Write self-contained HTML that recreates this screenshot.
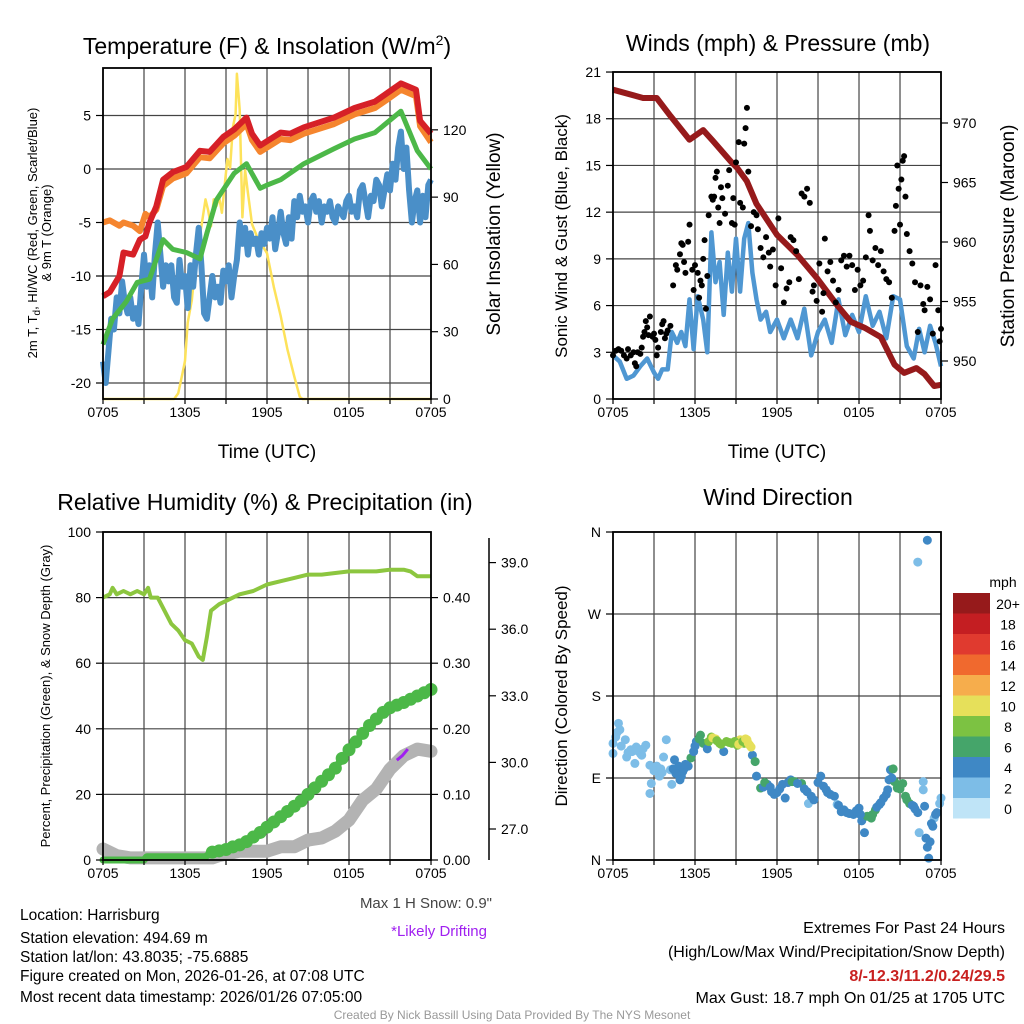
<!DOCTYPE html>
<html><head><meta charset="utf-8">
<style>
html,body{margin:0;padding:0;background:#fff;}
svg{display:block;font-family:"Liberation Sans",Arial,sans-serif;}
</style></head>
<body>
<svg id="fig" width="1024" height="1024" viewBox="0 0 1024 1024" xmlns="http://www.w3.org/2000/svg">
<rect width="1024" height="1024" fill="#fff"/>
<g id="grid"></g>
<g id="marks"></g>
<g id="axes"></g>

<text x="267" y="54" font-size="23" text-anchor="middle">Temperature (F) &amp; Insolation (W/m<tspan dy="-9" font-size="14">2</tspan><tspan dy="9">)</tspan></text>
<text x="778" y="51" font-size="23" text-anchor="middle">Winds (mph) &amp; Pressure (mb)</text>
<text x="265" y="510" font-size="23" text-anchor="middle">Relative Humidity (%) &amp; Precipitation (in)</text>
<text x="778" y="505" font-size="23" text-anchor="middle">Wind Direction</text>

<text transform="translate(37,233) rotate(-90)" font-size="13" text-anchor="middle">2m T, T<tspan dy="3" font-size="10">d</tspan><tspan dy="-3">, HI/WC (Red, Green, Scarlet/Blue)</tspan></text>
<text transform="translate(51,233) rotate(-90)" font-size="13" text-anchor="middle">&amp; 9m T (Orange)</text>
<text transform="translate(500,234) rotate(-90)" font-size="19" text-anchor="middle">Solar Insolation (Yellow)</text>
<text x="267" y="458" font-size="19" text-anchor="middle">Time (UTC)</text>
<text x="777" y="458" font-size="19" text-anchor="middle">Time (UTC)</text>
<text transform="translate(567,236) rotate(-90)" font-size="17" text-anchor="middle">Sonic Wind &amp; Gust (Blue, Black)</text>
<text transform="translate(1014,236) rotate(-90)" font-size="19" text-anchor="middle">Station Pressure (Maroon)</text>
<text transform="translate(50,696) rotate(-90)" font-size="13" text-anchor="middle">Percent, Precipitation (Green), &amp; Snow Depth (Gray)</text>
<text transform="translate(567,696) rotate(-90)" font-size="17" text-anchor="middle">Direction (Colored By Speed)</text>
<text x="1003" y="587" font-size="14" text-anchor="middle">mph</text>

<text x="492" y="908" font-size="15" fill="#444" text-anchor="end">Max 1 H Snow: 0.9"</text>
<text x="487" y="936" font-size="15" fill="#a020f0" text-anchor="end">*Likely Drifting</text>
<g font-size="15.5">
<text x="20" y="920">Location: Harrisburg</text>
<text x="20" y="943">Station elevation: 494.69 m</text>
<text x="20" y="962">Station lat/lon: 43.8035; -75.6885</text>
<text x="20" y="981">Figure created on Mon, 2026-01-26, at 07:08 UTC</text>
<text x="20" y="1002">Most recent data timestamp: 2026/01/26 07:05:00</text>
</g>
<g font-size="16" text-anchor="end">
<text x="1005" y="933">Extremes For Past 24 Hours</text>
<text x="1005" y="957">(High/Low/Max Wind/Precipitation/Snow Depth)</text>
<text x="1005" y="981" font-weight="bold" fill="#c8201f">8/-12.3/11.2/0.24/29.5</text>
<text x="1005" y="1003">Max Gust: 18.7 mph On 01/25 at 1705 UTC</text>
</g>
<text x="512" y="1019" font-size="12" fill="#999" text-anchor="middle">Created By Nick Bassill Using Data Provided By The NYS Mesonet</text>
</svg>
<script>
// ---------- data ----------
const timeLabels = ["0705","1305","1905","0105","0705"];
const tempHours = [0,0.5,1.2,1.5,2.2,2.7,3.1,3.4,3.9,4.4,5.1,6.1,7.1,7.8,8.8,9.6,10.5,10.9,11.5,12.5,13,13.7,14.7,16.9,18.4,19.9,20.8,21.8,22.9,23.2,24];
const tempValues = [-11.9,-11.5,-10,-7.8,-8,-6.6,-6.3,-5,-3.5,-1,-0.3,0.2,1.7,1.6,3,3.7,4.8,3.3,2.2,3,3.4,3.3,3.9,4.8,5.7,6.3,7.1,8.0,7.4,4.5,3.3];
const t9Values = [-5,-4.8,-5.3,-5,-5.3,-5.8,-4.2,-4.5,-3.8,-1.6,-0.9,-0.4,1.1,1.0,2.4,3.1,4.2,2.7,1.6,2.4,2.8,2.7,3.3,4.2,5.1,5.7,6.5,7.4,6.8,4.0,2.5];
const hiHours = [0,0.7,1.7,2.5,3.4,4.4,5.1,6.1,7.1,7.6,8.3,9.6,10.5,11.5,12,13,14.7,16.9,18.4,19.9,21.8,23,24];
const hiValues = [-16.4,-14,-12.4,-10.6,-10.3,-6.6,-7.5,-7.8,-8.4,-6,-2.9,-0.4,0.5,-1.8,-1.5,-1,0.5,1.9,2.8,3.4,5.4,1.7,0];
const dewStep = 0.2;
const dewValues = [-18,-20,-17,-14,-15,-12,-13.5,-10.5,-12.5,-13.5,-12,-14,-13,-14.5,-11,-8,-11,-9,-12,-8,-5,-8,-11,-9,-10.5,-9,-12,-12.5,-8.5,-11,-10,-13,-9,-11,-8,-5.5,-9,-13.5,-14,-12,-10,-12,-11,-12.5,-9.5,-10.5,-9,-12,-10,-8.5,-5,-7,-5.5,-8,-6,-7,-6.5,-8,-6,-7,-5.5,-6.5,-4.5,-7.5,-6,-4,-6,-7,-4.5,-6.5,-3,-4.5,-2.5,-4,-3.5,-5,-3,-2.5,-4,-3,-5,-3.5,-4,-3,-4.5,-5,-3.5,-4,-4.5,-3,-2.5,-4,-3.5,-4.5,-2,-1.5,-3,-4.5,-2.5,-3,-1,-1.5,-3.5,-2,-0.5,-2,0.5,-1,2,3.5,0,2,-2,-5,-3,-2,-5,-2.5,-4.5,-1.5,-1];
const solarHours = [0,5.2,5.5,5.8,6,6.2,6.5,6.8,7.2,7.5,7.7,7.9,8.1,8.3,8.5,8.7,8.9,9.1,9.3,9.5,9.7,9.8,10,10.2,10.4,10.6,10.9,11.3,11.6,12,12.5,13,13.5,14,14.4,14.6,24];
const solarValues = [0,0,2.5,11,17,34,44,62,77,89,84,77,89,86,90,83,95,107,103,121,127,145,129,81,102,92,78,72,69,65,50,37,22,10,1,0,0];
const tempTicks = [-20,-15,-10,-5,0,5];
const solarTicks = [0,30,60,90,120];

const presHours = [0,2.2,3.2,4.2,5.6,6.6,7.3,8.6,9.1,9.8,10.5,12,13.5,14.9,16.4,17.4,18.4,19.6,20.6,21.3,22.2,22.8,23.5,24];
const presValues = [972.8,972.1,972.1,970.6,968.6,969.4,968.5,966.8,966.2,965.1,963.2,960.6,958.9,957.0,954.7,953.3,952.8,952.0,949.7,949.0,949.4,948.9,947.9,948.0];
const sonicHours = [0,0.5,1,1.5,2,2.5,3,3.3,3.6,4,4.3,4.7,5,5.3,5.6,5.9,6.2,6.6,6.9,7.2,7.5,7.8,8.1,8.4,8.7,9,9.3,9.6,9.9,10.2,10.5,10.8,11.2,11.5,12,12.5,13,13.5,14,14.5,15,15.5,16,16.5,17,17.5,18,18.5,19,19.5,20,20.5,21,21.5,22,22.4,22.8,23.2,23.6,24];
const sonicValues = [2.8,2.4,1.3,1.5,2.1,2.6,1.7,1.3,1.9,1.9,4.3,3.6,4.3,3.4,6.4,3.2,6.6,5.1,3.0,10.7,7.5,8.8,5.4,9.4,6.9,10.3,6.9,10.3,11.3,8.1,6.4,5.1,5.6,4.3,5.1,3.9,5.1,3.9,5.8,2.8,4.3,5.1,3.6,6.4,4.1,5.4,4.3,6.6,4.7,5.6,3.9,6.6,6.4,3.4,2.6,4.5,3.0,4.7,3.6,2.1];
const gustHours = [0,0.2,0.4,0.6,0.8,1,1.1,1.3,1.5,1.6,1.7,1.8,2,2.1,2.2,2.3,2.4,2.5,2.6,2.7,2.9,3.0,3.1,3.2,3.3,3.5,3.6,3.7,3.8,3.9,4.0,4.2,4.4,4.6,4.7,4.9,5.0,5.1,5.2,5.3,5.5,5.6,5.8,5.9,6.0,6.2,6.3,6.4,6.5,6.6,6.7,6.8,6.9,7.0,7.2,7.3,7.4,7.5,7.6,7.7,7.8,7.9,8.0,8.2,8.4,8.5,8.7,8.8,8.9,9.0,9.2,9.3,9.5,9.6,9.7,9.8,9.9,10.1,10.3,10.5,10.6,10.8,11.0,11.2,11.4,11.5,11.7,11.9,12.1,12.3,12.5,12.7,12.9,13.0,13.2,13.4,13.6,13.8,14.0,14.2,14.4,14.6,14.7,14.9,15.1,15.3,15.4,15.5,15.7,15.9,16.1,16.3,16.5,16.7,16.9,17.1,17.3,17.5,17.7,17.9,18.1,18.3,18.5,18.7,18.8,19.0,19.2,19.4,19.6,19.8,20.0,20.2,20.4,20.6,20.7,20.8,20.9,21.0,21.1,21.2,21.3,21.4,21.5,21.7,21.9,22.1,22.3,22.5,22.7,22.8,23.0,23.2,23.4,23.6,23.8,24.0,23.9];
const gustValues = [2.8,3.1,3.2,3.1,2.8,2.6,3.2,2.8,3.0,2.3,2.1,3.0,2.9,3.3,4.0,4.3,5.0,4.6,4.1,5.3,4.0,4.2,3.8,2.8,3.3,4.3,4.8,5.0,3.9,4.2,4.4,4.7,7.3,8.6,8.3,9.3,10.0,9.9,8.8,8.1,10.1,11.2,8.3,7.0,8.6,8.1,6.5,7.6,7.3,9.0,10.2,5.8,7.9,11.8,13.0,12.8,13.0,14.2,14.6,12.3,11.3,13.6,12.9,11.9,13.7,14.7,11.3,12.9,11.2,15.2,16.5,12.6,12.3,16.4,17.4,18.7,14.6,11.1,12.0,11.8,10.9,9.7,9.1,10.4,9.4,8.5,9.6,7.3,11.6,8.4,6.2,7.1,7.5,10.4,10.2,9.5,7.7,13.2,13.0,13.5,12.6,6.9,7.3,6.3,8.7,5.6,6.8,10.3,8.2,8.8,7.6,6.2,7.0,8.9,9.2,8.5,9.2,8.6,7.0,8.3,7.3,7.6,9.1,11.8,10.8,8.9,9.7,8.6,9.5,8.2,7.7,7.5,6.5,10.8,12.4,15.0,13.5,11.2,14.1,15.3,15.6,13.0,10.6,9.5,8.7,7.5,4.3,7.3,6.1,5.7,7.2,6.4,4.2,8.6,5.7,4.5,3.7];
const windTicks = [0,3,6,9,12,15,18,21];
const presTicks = [950,955,960,965,970];

const rhHours = [0,0.5,0.7,1,1.5,2,2.5,3,3.3,3.5,4,4.5,5,5.5,6,6.5,7,7.3,7.6,7.9,8.5,9,10,11,12,13,14,15,16,17,18,19,20,21,22,22.5,23,24];
const rhValues = [80,81,83,81,82,81,82,81,83,80,80,76,72,70,67,66,62,61,68,76,78,79,81,82,84,85,86,87,87,87.5,88,88,88,88.5,88.5,88,86.5,86.5];
const precipHours = [0,3,3.2,7.5,8,8.5,9,9.5,10,10.5,11,11.5,12,12.5,13,13.5,14,14.5,15,15.5,16,16.5,17,17.5,18,18.5,19,19.5,20,20.5,21,21.5,22,22.5,23,23.5,24];
const precipValues = [0,0,0.005,0.005,0.012,0.014,0.016,0.02,0.023,0.028,0.035,0.042,0.05,0.058,0.066,0.074,0.082,0.09,0.1,0.11,0.12,0.13,0.14,0.155,0.168,0.18,0.193,0.205,0.215,0.225,0.232,0.236,0.24,0.245,0.25,0.255,0.26];
const snowHours = [0,1,2,4,6,8,8.5,10,12,13,14,15,16,17,18,19,20,21,22,23,24];
const snowValues = [26.1,25.8,25.7,25.7,25.7,25.7,25.8,26.0,26.0,26.2,26.2,26.5,26.6,26.9,27.4,28.3,28.8,29.7,30.3,30.6,30.5];
const driftHours = [21.5,21.9,22.3];
const driftValues = [30.1,30.3,30.6];
const rhTicks = [0,20,40,60,80,100];
const precipTicks = [0,0.1,0.2,0.3,0.4];
const snowTicks = [27,30,33,36,39];

const dirHours = [0,0,0.4,0.5,0.9,1,1.3,1.7,1.6,2,2.4,2.7,2.8,2.7,3.2,3.4,3.7,3.9,4.2,4.3,4.5,4.8,5,5.1,5.5,5.7,5.9,6.1,6.4,6.6,6.9,7.2,7.5,7.8,8.1,8.3,8.7,9.1,9.3,9.6,9.8,10,10.2,10.4,10.5,10.8,11.3,11.6,12,12.4,12.6,13,13.3,13.8,14.2,14.3,14.7,15.2,15.4,15.7,16.2,16.4,16.7,17.1,17.6,18,18.2,18.4,18.6,18.9,19.2,19.5,19.8,20.1,20.2,20.3,20.5,20.6,20.8,21.2,21.4,21.7,22,22.3,22.4,22.7,22.7,22.8,22.9,23,23.1,23.4,23.5,23.7,23.9,24,22.3,23.0,
 0.2,0.3,0.6,1.1,1.4,1.8,2.1,2.2,3,3.5,3.6,4.4,4.6,4.9,5.2,5.3,6.0,6.3,7.0,7.3,7.6,7.9,8.5,8.9,9.2,9.5,9.7,9.9,10.1,11,11.1,11.5,11.8,12.2,12.8,13.1,13.5,14,14.5,15,15.6,15.9,16.5,16.9,17.3,17.8,18.1,19,19.3,19.6,20,20.4,20.9,21,21.5,21.9,22.1,23.3,23.6,23.2];
const dirValues = [117,128,150,143,132,113,121,124,106,117,126,104,84,73,103,92,113,132,99,83,110,103,92,97,103,112,119,130,137,128,122,135,133,128,119,130,128,126,132,128,132,126,115,108,92,79,83,75,74,83,68,88,86,84,75,62,66,92,81,74,70,61,53,52,50,57,43,30,48,46,55,61,68,77,88,99,100,86,79,84,70,62,59,52,30,86,77,59,24,14,2,37,46,52,62,68,327,351,
 135,140,125,118,119,120,115,122,98,100,96,100,95,88,100,105,125,133,130,134,131,127,129,130,127,130,133,128,124,80,85,80,72,78,85,86,84,78,70,85,77,72,60,55,51,54,50,50,58,63,72,90,82,78,66,60,56,40,50,20];
const dirSpeeds = [2,2,2,2,2,1,2,2,1,2,2,2,2,2,2,2,2,2,2,2,4,4,4,4,4,6,4,4,6,6,4,8,10,8,4,8,8,8,10,8,10,10,4,6,4,6,4,4,4,4,4,4,6,6,4,2,4,4,4,4,4,2,4,4,4,4,4,4,6,6,6,4,4,4,4,4,6,6,6,6,6,6,4,4,2,2,2,4,4,4,4,4,2,4,2,2,2,4,
 2,2,2,1,2,2,2,2,2,2,2,4,4,4,4,4,4,6,8,10,8,8,8,8,10,8,10,10,10,4,6,4,4,4,4,6,4,4,4,4,4,4,4,4,4,4,4,6,4,4,4,4,6,6,6,4,4,4,4,4];
const dirTickLabels = ["N","E","S","W","N"];
const speedBins = ["0","2","4","6","8","10","12","14","16","18","20+"];
const speedColors = ["#bfe4f7","#7dbde7","#3f88c5","#45a56a","#7cc242","#e6e05a","#f6ad4c","#f0692e","#e03a2f","#c41e22","#961a1b"];

// ---------- helpers ----------
const NS = "http://www.w3.org/2000/svg";
const G = document.getElementById('grid'), M = document.getElementById('marks'), A = document.getElementById('axes');
function mk(tag, attrs, parent){const e=document.createElementNS(NS,tag);for(const k in attrs)e.setAttribute(k,attrs[k]);parent.appendChild(e);return e;}
function pathD(xs, ys, fx, fy){return xs.map((h,i)=>(i?'L':'M')+fx(h).toFixed(1)+','+fy(ys[i]).toFixed(1)).join('');}
const xT = h => 103 + h*13.667;
const xW = h => 613 + h*13.667;
const yT = v => 169 - v*10.7;
const yS = w => 399 - w*2.243;
const yWd = m => 399 - m*15.57;
const yP = p => 361 - (p-950)*11.9;
const yR = v => 860 - v*3.28;
const yPr = v => 860 - v*656;
const ySn = v => 829 - (v-27)*22.2;
const yD = d => 860 - d*0.9111;

function panel(x0,y0,x1,y1,name,hgrid){
  for(let h=0;h<=24;h+=3){
    const l=mk('line',{x1:x0+h*13.667,x2:x0+h*13.667,y1:y0,y2:y1,stroke:'#444','stroke-width':1.2},G);
    
    
  }
  hgrid.forEach(y=>{
    const l=mk('line',{x1:x0,x2:x1,y1:y,y2:y,stroke:'#444','stroke-width':1.2},G);
    
    
  });
  const r=mk('rect',{x:x0,y:y0,width:x1-x0,height:y1-y0,fill:'none',stroke:'#000','stroke-width':1.8},A);
  
  
  timeLabels.forEach((t,i)=>{
    const tx=mk('text',{x:x0+i*82,y:y1+18,'font-size':14,'text-anchor':'middle'},A);tx.textContent=t;
    
    
  });
  for(let h=0;h<=24;h+=3){
    const tk=mk('line',{x1:x0+h*13.667,x2:x0+h*13.667,y1:y1,y2:y1+5,stroke:'#000','stroke-width':1.2},A);
    
    
  }
}
function yTicks(vals, fy, x, dir, fmt, name){
  vals.forEach(v=>{
    const y=fy(v);
    const tk=mk('line',{x1:x,x2:x+dir*7,y1:y,y2:y,stroke:'#000','stroke-width':1.2},A);
    
    
    const tx=mk('text',{x:x+dir*12,y:y+5,'font-size':14,'text-anchor':dir<0?'end':'start'},A);
    tx.textContent=fmt(v);
    
    
  });
}
panel(103,68,431,399,'temperature',tempTicks.map(yT));
panel(613,72,941,399,'winds',windTicks.map(yWd));
panel(103,532,431,860,'humidity',rhTicks.map(yR));
panel(613,532,941,860,'direction',[0,90,180,270,360].map(yD));
yTicks(tempTicks,yT,103,-1,v=>String(v),'temperature-y');
yTicks(solarTicks,yS,431,1,v=>String(v),'solar-y');
yTicks(windTicks,yWd,613,-1,v=>String(v),'wind-y');
yTicks(presTicks,yP,941,1,v=>String(v),'pressure-y');
yTicks(rhTicks,yR,103,-1,v=>String(v),'humidity-y');
yTicks(precipTicks,yPr,431,1,v=>v.toFixed(2),'precip-y');
yTicks(snowTicks,ySn,489,1,v=>v.toFixed(1),'snow-y');
yTicks([0,90,180,270,360].map(String),s=>yD(+s),613,-1,s=>dirTickLabels[[0,90,180,270,360].indexOf(+s)],'direction-y');
const sa=mk('line',{x1:489,x2:489,y1:538,y2:860,stroke:'#000','stroke-width':1.5},A);



let e;
e=mk('path',{d:pathD(solarHours,solarValues,xT,yS),fill:'none',stroke:'#fde25a','stroke-width':2.5,'stroke-linejoin':'round'},M);


const dewHours = dewValues.map((v,i)=>i*dewStep);
e=mk('path',{d:pathD(dewHours,dewValues,xT,yT),fill:'none',stroke:'#4a8fc8','stroke-width':6,'stroke-linejoin':'round'},M);


e=mk('path',{d:pathD(hiHours,hiValues,xT,yT),fill:'none',stroke:'#4cb848','stroke-width':5,'stroke-linejoin':'round'},M);


e=mk('path',{d:pathD(tempHours,t9Values,xT,yT),fill:'none',stroke:'#f5852e','stroke-width':6,'stroke-linejoin':'round'},M);


e=mk('path',{d:pathD(tempHours,tempValues,xT,yT),fill:'none',stroke:'#d62027','stroke-width':6,'stroke-linejoin':'round'},M);



e=mk('path',{d:pathD(sonicHours,sonicValues,xW,yWd),fill:'none',stroke:'#4f97d2','stroke-width':4.5,'stroke-linejoin':'round'},M);


e=mk('path',{d:pathD(presHours,presValues,xW,yP),fill:'none',stroke:'#961a1b','stroke-width':6,'stroke-linejoin':'round'},M);


gustHours.forEach((h,i)=>{
  const c=mk('circle',{cx:xW(h),cy:yWd(gustValues[i]),r:3,fill:'#000'},M);
  
  
});

e=mk('path',{d:pathD(snowHours,snowValues,xT,ySn),fill:'none',stroke:'#b3b3b3','stroke-width':13,'stroke-linejoin':'round','stroke-linecap':'round'},M);


e=mk('path',{d:pathD(driftHours,driftValues,xT,ySn),fill:'none',stroke:'#a020f0','stroke-width':3},M);


e=mk('path',{d:pathD(precipHours,precipValues,xT,yPr),fill:'none',stroke:'#4cb848','stroke-width':7,'stroke-linejoin':'round','stroke-linecap':'round'},M);


precipHours.forEach((h,i)=>{
  if(h<8) return;
  const c=mk('circle',{cx:xT(h),cy:yPr(precipValues[i]),r:6.5,fill:'#4cb848'},M);
  
  
});
e=mk('path',{d:pathD(rhHours,rhValues,xT,yR),fill:'none',stroke:'#8cc63f','stroke-width':4,'stroke-linejoin':'round'},M);



function binOf(s){return Math.min(10,Math.round(s/2));}
dirHours.forEach((h,i)=>{
  const c=mk('circle',{cx:xW(h),cy:yD(dirValues[i]),r:4.5,fill:speedColors[binOf(dirSpeeds[i])]},M);
  
  
});
speedBins.forEach((lab,i)=>{
  const y=798-i*20.5;
  const r=mk('rect',{x:953,y:y,width:37,height:20.5,fill:speedColors[i]},A);
  
  
  const t=mk('text',{x:1008,y:y+16,'font-size':14,'text-anchor':'middle'},A);
  t.textContent=lab;
  
  
});
</script>
</body></html>
